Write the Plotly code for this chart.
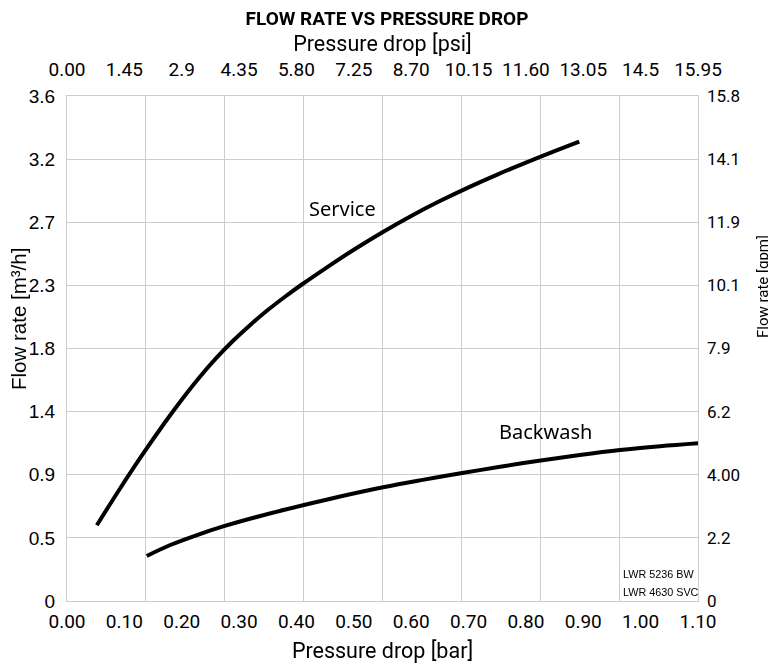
import plotly.graph_objects as go

# ---- data ----
service_bar = [0.052, 0.090, 0.130, 0.170, 0.200, 0.230, 0.260, 0.290, 0.320, 0.350, 0.380,
               0.410, 0.450, 0.500, 0.550, 0.600, 0.650, 0.700, 0.750, 0.800, 0.850, 0.893]
service_m3h = [0.540, 0.786, 1.034, 1.269, 1.435, 1.590, 1.731, 1.857, 1.970, 2.074, 2.169,
               2.258, 2.370, 2.504, 2.629, 2.745, 2.851, 2.949, 3.040, 3.125, 3.207, 3.275]

backwash_bar = [0.139, 0.180, 0.223, 0.275, 0.337, 0.413, 0.476, 0.551, 0.615, 0.689,
                0.755, 0.826, 0.894, 0.964, 1.034, 1.100]
backwash_m3h = [0.321, 0.399, 0.465, 0.535, 0.606, 0.684, 0.745, 0.811, 0.860, 0.912,
                0.957, 1.002, 1.041, 1.076, 1.103, 1.124]

bar_ticks = [0.0, 0.1, 0.2, 0.3, 0.4, 0.5, 0.6, 0.7, 0.8, 0.9, 1.0, 1.1]
bar_labels = ["0.00", "0.10", "0.20", "0.30", "0.40", "0.50", "0.60", "0.70", "0.80", "0.90", "1.00", "1.10"]
psi_ticks = [0.0, 1.45, 2.9, 4.35, 5.8, 7.25, 8.7, 10.15, 11.6, 13.05, 14.5, 15.95]
psi_labels = ["0.00", "1.45", "2.9", "4.35", "5.80", "7.25", "8.70", "10.15", "11.60", "13.05", "14.5", "15.95"]
m3h_ticks = [0, 0.45, 0.9, 1.35, 1.8, 2.25, 2.7, 3.15, 3.6]
m3h_labels = ["0", "0.5", "0.9", "1.4", "1.8", "2.3", "2.7", "3.2", "3.6"]
gpm_ticks = [0, 1.975, 3.95, 5.925, 7.9, 9.875, 11.85, 13.825, 15.8]
gpm_labels = ["0", "2.2", "4.00", "6.2", "7.9", "10.1", "11.9", "14.1", "15.8"]
grid_x = [0, 0.1375, 0.275, 0.4125, 0.55, 0.6875, 0.825, 0.9625, 1.1]

BAR_MAX = 1.1
PSI_MAX = 15.95
M3H_MAX = 3.6
GPM_MAX = 15.8

DIN = "Roboto, 'Noto Sans', sans-serif"
ARIAL = "'Liberation Sans', Arial, sans-serif"
NARROW = "'Liberation Sans Narrow', 'Arial Narrow', 'Liberation Sans', sans-serif"
GRID = "#cccccc"

fig = go.Figure()
fig.add_trace(go.Scatter(x=service_bar, y=service_m3h, mode="lines", name="Service",
                         line=dict(color="black", width=4, shape="spline", smoothing=1),
                         xaxis="x", yaxis="y", showlegend=False))
fig.add_trace(go.Scatter(x=backwash_bar, y=backwash_m3h, mode="lines", name="Backwash",
                         line=dict(color="black", width=4, shape="spline", smoothing=1),
                         xaxis="x", yaxis="y", showlegend=False))
# invisible helpers so secondary axes get drawn
fig.add_trace(go.Scatter(x=[0, PSI_MAX], y=[0, 0], mode="markers", opacity=0,
                         xaxis="x2", yaxis="y", showlegend=False, hoverinfo="skip"))
fig.add_trace(go.Scatter(x=[0, BAR_MAX], y=[0, GPM_MAX], mode="markers", opacity=0,
                         xaxis="x3", yaxis="y2", showlegend=False, hoverinfo="skip"))

fig.update_layout(
    width=776, height=663,
    margin=dict(l=59, r=86, t=88, b=70, autoexpand=False),
    paper_bgcolor="white", plot_bgcolor="white",
    title=dict(text="<b>FLOW RATE VS PRESSURE DROP</b>", x=379 / 776, xanchor="center",
               y=1 - 10 / 663, yanchor="middle", yref="container",
               font=dict(family=DIN, size=19, color="black")),
    xaxis=dict(range=[0, BAR_MAX], tickvals=bar_ticks, ticktext=bar_labels,
               showgrid=False, zeroline=False, showline=False, ticks="", automargin=False,
               tickfont=dict(family=DIN, size=19, color="black"), ticklabelstandoff=7,
               title=dict(text="Pressure drop [bar]", font=dict(family=DIN, size=21.5, color="black"),
                          standoff=10),
               anchor="y", fixedrange=True),
    xaxis3=dict(range=[0, BAR_MAX], overlaying="x", anchor="y", side="bottom",
                tickvals=grid_x, showticklabels=False, showgrid=True, gridcolor=GRID, gridwidth=1,
                zeroline=False, showline=True, linecolor=GRID, mirror=True, ticks="",
                automargin=False),
    xaxis2=dict(range=[0, PSI_MAX], overlaying="x", anchor="y", side="top",
                tickvals=psi_ticks, ticktext=psi_labels, showgrid=False, zeroline=False,
                showline=False, ticks="", automargin=False,
                tickfont=dict(family=DIN, size=19, color="black"), ticklabelstandoff=15,
                title=dict(text="Pressure drop [psi]", font=dict(family=DIN, size=21.5, color="black"),
                           standoff=0)),
    yaxis=dict(range=[0, M3H_MAX], tickvals=m3h_ticks, ticktext=m3h_labels,
               showgrid=True, gridcolor=GRID, zeroline=False, showline=True, linecolor=GRID,
               mirror=True, ticks="", ticklabelstandoff=7, automargin=False,
               tickfont=dict(family=ARIAL, size=19, color="black")),
    yaxis2=dict(range=[0, GPM_MAX], overlaying="y", side="right", anchor="x",
                tickvals=gpm_ticks, ticktext=gpm_labels, showgrid=False, zeroline=False,
                showline=False, ticks="", ticklabelstandoff=8, automargin=False,
                tickfont=dict(family=DIN, size=17, color="black")),
    annotations=[
        dict(x=-49 / 631, y=(601 - 319) / 505, xref="paper", yref="paper", text="Flow rate [m³/h]",
             textangle=-90, showarrow=False, xanchor="center", yanchor="middle",
             font=dict(family=ARIAL, size=20.5, color="black")),
        dict(x=696 / 631, y=(601 - 287) / 505, xref="paper", yref="paper", text="Flow rate [gpm]",
             textangle=-90, showarrow=False, xanchor="center", yanchor="middle",
             font=dict(family=DIN, size=15, color="black")),
        dict(x=0.481, y=2.80, xref="x", yref="y", text="Service", showarrow=False,
             font=dict(family="'Noto Sans', sans-serif", size=20, color="black")),
        dict(x=0.835, y=1.205, xref="x", yref="y", text="Backwash", showarrow=False,
             font=dict(family="'Noto Sans', sans-serif", size=20, color="black")),
        dict(x=0.966, y=0.192, xref="x", yref="y", xanchor="left", text="LWR 5236 BW",
             showarrow=False, font=dict(family=NARROW, size=10.8, color="black")),
        dict(x=0.966, y=0.066, xref="x", yref="y", xanchor="left", text="LWR 4630 SVC",
             showarrow=False, font=dict(family=NARROW, size=10.8, color="black")),
    ],
)

fig.write_html("out.html")
